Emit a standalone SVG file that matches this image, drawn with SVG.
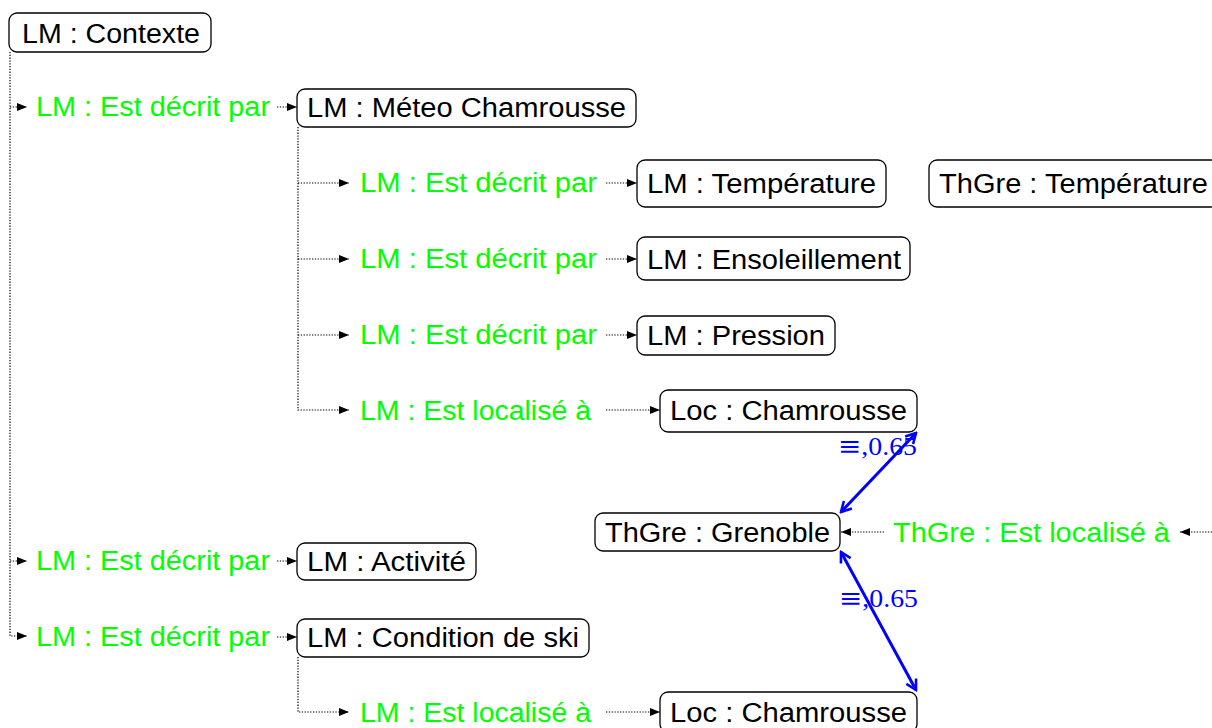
<svg xmlns="http://www.w3.org/2000/svg" width="1212" height="728" viewBox="0 0 1212 728">
<style>
.box{fill:#fff;stroke:#000;stroke-width:1.3}
.t{font-family:"Liberation Sans",Arial,sans-serif;font-size:27px;fill:#000}
.g{font-family:"Liberation Sans",Arial,sans-serif;font-size:27px;fill:#00ff00}
.b{font-family:"Liberation Serif","DejaVu Serif",serif;font-size:26px;fill:#0000ff}
.eq{font-family:"DejaVu Serif",serif}
.dot{fill:none;stroke:#000;stroke-width:1.2;stroke-dasharray:1.3 1.5}
.blue{fill:none;stroke:#0000ff;stroke-width:3}
</style>
<defs>
<marker id="ah" markerUnits="userSpaceOnUse" markerWidth="10" markerHeight="8" refX="10" refY="4" orient="auto">
<path d="M0,0 L10,4 L0,8 z" fill="#000"/>
</marker>
<marker id="bh" markerUnits="userSpaceOnUse" markerWidth="14" markerHeight="14" refX="12" refY="7" orient="auto-start-reverse">
<path d="M2,1.5 L12,7 L2,12.5" fill="none" stroke="#0000ff" stroke-width="2.6"/>
</marker>
</defs>

<g id="connectors">
<path class="dot" d="M10,52 V636 H27" marker-end="url(#ah)"/>
<path class="dot" d="M10,107 H27" marker-end="url(#ah)"/>
<path class="dot" d="M10,561 H27" marker-end="url(#ah)"/>
<path class="dot" d="M277,107 H297" marker-end="url(#ah)"/>
<path class="dot" d="M277,561 H297" marker-end="url(#ah)"/>
<path class="dot" d="M277,637 H297" marker-end="url(#ah)"/>
<path class="dot" d="M298,127 V410 H349" marker-end="url(#ah)"/>
<path class="dot" d="M298,183 H349" marker-end="url(#ah)"/>
<path class="dot" d="M298,259 H349" marker-end="url(#ah)"/>
<path class="dot" d="M298,335 H349" marker-end="url(#ah)"/>
<path class="dot" d="M606,183 H637" marker-end="url(#ah)"/>
<path class="dot" d="M606,259 H637" marker-end="url(#ah)"/>
<path class="dot" d="M606,335 H637" marker-end="url(#ah)"/>
<path class="dot" d="M606,410 H660" marker-end="url(#ah)"/>
<path class="dot" d="M298,657 V712 H349" marker-end="url(#ah)"/>
<path class="dot" d="M606,712 H660" marker-end="url(#ah)"/>
<path class="dot" d="M884,532 H841" marker-end="url(#ah)"/>
<path class="dot" d="M1212,532 H1180" marker-end="url(#ah)"/>
<path class="blue" d="M916,433 L841,512" marker-start="url(#bh)" marker-end="url(#bh)"/>
<path class="blue" d="M841,552 L916,690" marker-start="url(#bh)" marker-end="url(#bh)"/>
</g>

<g id="labels">
<text class="g" x="36" y="116" textLength="234" lengthAdjust="spacingAndGlyphs">LM : Est décrit par</text>
<text class="g" x="360" y="192" textLength="237" lengthAdjust="spacingAndGlyphs">LM : Est décrit par</text>
<text class="g" x="360" y="268" textLength="237" lengthAdjust="spacingAndGlyphs">LM : Est décrit par</text>
<text class="g" x="360" y="344" textLength="237" lengthAdjust="spacingAndGlyphs">LM : Est décrit par</text>
<text class="g" x="360" y="420" textLength="231" lengthAdjust="spacingAndGlyphs">LM : Est localisé à</text>
<text class="g" x="893" y="542" textLength="277" lengthAdjust="spacingAndGlyphs">ThGre : Est localisé à</text>
<text class="g" x="36" y="570" textLength="234" lengthAdjust="spacingAndGlyphs">LM : Est décrit par</text>
<text class="g" x="36" y="646" textLength="234" lengthAdjust="spacingAndGlyphs">LM : Est décrit par</text>
<text class="g" x="360" y="722" textLength="231" lengthAdjust="spacingAndGlyphs">LM : Est localisé à</text>
<text class="b" x="838" y="455" textLength="79" lengthAdjust="spacingAndGlyphs"><tspan class="eq">≡</tspan>,0.65</text>
<text class="b" x="839" y="607" textLength="79" lengthAdjust="spacingAndGlyphs"><tspan class="eq">≡</tspan>,0.65</text>
</g>

<g id="n-contexte"><rect class="box" x="9" y="13" width="202" height="39" rx="8"/><text class="t" x="22" y="43" textLength="178" lengthAdjust="spacingAndGlyphs">LM : Contexte</text></g>
<g id="n-meteo"><rect class="box" x="297" y="89" width="339" height="38" rx="8"/><text class="t" x="307" y="117" textLength="319" lengthAdjust="spacingAndGlyphs">LM : Méteo Chamrousse</text></g>
<g id="n-temperature"><rect class="box" x="637" y="160" width="249" height="47" rx="8"/><text class="t" x="647" y="193" textLength="229" lengthAdjust="spacingAndGlyphs">LM : Température</text></g>
<g id="n-thgre-temperature"><rect class="box" x="929" y="160" width="290" height="47" rx="8"/><text class="t" x="939" y="193" textLength="269" lengthAdjust="spacingAndGlyphs">ThGre : Température</text></g>
<g id="n-ensoleillement"><rect class="box" x="637" y="237" width="273" height="43" rx="8"/><text class="t" x="647" y="269" textLength="254" lengthAdjust="spacingAndGlyphs">LM : Ensoleillement</text></g>
<g id="n-pression"><rect class="box" x="637" y="316" width="198" height="39" rx="8"/><text class="t" x="647" y="345" textLength="178" lengthAdjust="spacingAndGlyphs">LM : Pression</text></g>
<g id="n-loc-chamrousse-1"><rect class="box" x="660" y="390" width="257" height="42" rx="8"/><text class="t" x="670" y="420" textLength="237" lengthAdjust="spacingAndGlyphs">Loc : Chamrousse</text></g>
<g id="n-grenoble"><rect class="box" x="595" y="513" width="245" height="38" rx="8"/><text class="t" x="605" y="542" textLength="225" lengthAdjust="spacingAndGlyphs">ThGre : Grenoble</text></g>
<g id="n-activite"><rect class="box" x="297" y="543" width="179" height="37" rx="8"/><text class="t" x="307" y="571" textLength="159" lengthAdjust="spacingAndGlyphs">LM : Activité</text></g>
<g id="n-condition"><rect class="box" x="297" y="619" width="292" height="38" rx="8"/><text class="t" x="307" y="647" textLength="272" lengthAdjust="spacingAndGlyphs">LM : Condition de ski</text></g>
<g id="n-loc-chamrousse-2"><rect class="box" x="660" y="692" width="257" height="40" rx="8"/><text class="t" x="670" y="722" textLength="237" lengthAdjust="spacingAndGlyphs">Loc : Chamrousse</text></g>
</svg>
